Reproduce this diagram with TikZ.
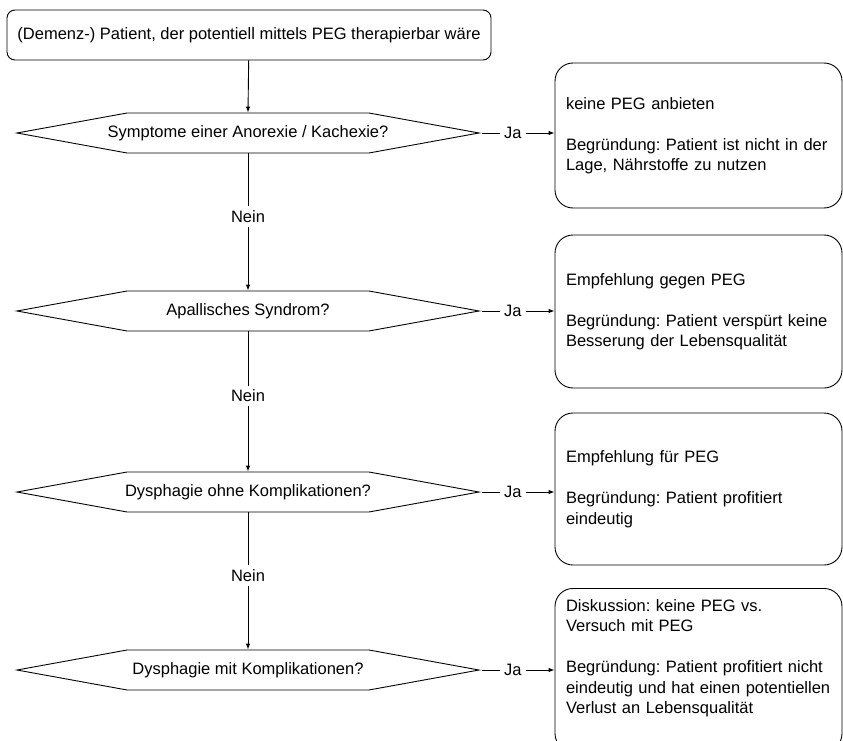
\documentclass[tikz,border=0pt]{standalone}
\usepackage{fontspec}
\setmainfont{Liberation Sans}
\usetikzlibrary{shapes.symbols,arrows.meta,positioning}

\begin{document}
\frenchspacing
\begin{tikzpicture}[x=1pt,y=-1pt,line width=0.9pt,>={Latex[length=6pt,width=4.5pt]},font=\fontsize{16.5}{20.5}\selectfont]
    \tikzstyle{start}=[draw, rounded corners=8pt, minimum width=484pt, minimum height=50pt, inner sep=2pt]
    \tikzstyle{query}=[draw, signal, signal to=west and east, signal pointer angle=20.6, minimum width=462pt, minimum height=40pt, inner xsep=-80pt, inner ysep=0pt]
    \tikzstyle{result}=[draw, rounded corners=18pt, minimum width=287pt, text width=265pt, align=left, inner sep=11pt]
    \tikzstyle{lbl}=[fill=white, inner sep=4pt]
    \useasboundingbox (0,0) rectangle (843,741);
    \node[start] (s) at (249,35) {(Demenz-) Patient, der potentiell mittels PEG therapierbar wäre};
    % Fragen
    \node[query] (q1) at (248,133) {Symptome einer Anorexie / Kachexie?};
    \node[query] (q2) at (248,311) {Apallisches Syndrom?};
    \node[query] (q3) at (248,492) {Dysphagie ohne Komplikationen?};
    \node[query] (q4) at (248,670) {Dysphagie mit Komplikationen?};
    % Empfehlungen
    \node[result, minimum height=145pt] (r1) at (698.5,135.5) {keine PEG anbieten\\[20.5pt]Begründung: Patient ist nicht in der\\Lage, Nährstoffe zu nutzen};
    \node[result, minimum height=153pt] (r2) at (698.5,311.5) {Empfehlung gegen PEG\\[20.5pt]Begründung: Patient verspürt keine\\Besserung der Lebensqualität};
    \node[result, minimum height=152pt] (r3) at (698.5,489) {Empfehlung für PEG\\[20.5pt]Begründung: Patient profitiert\\eindeutig};
    \node[result, minimum height=156pt] (r4) at (698.5,670) {Diskussion: keine PEG vs.\\Versuch mit PEG\\[20.5pt]Begründung: Patient profitiert nicht\\eindeutig und hat einen potentiellen\\Verlust an Lebensqualität\\\strut};
    \draw[->] (s) -- (q1.north);
    \foreach \current/\next in {1/2,2/3,3/4} {
        \draw[->] (q\current.south) -- node[lbl, pos=0.46] {Nein} (q\next.north);
    }
    \foreach \i in {1,2,3,4} {
        \draw[->] (q\i.east) -- node[lbl, pos=0.43] {Ja} (q\i.east -| r\i.west);
    }
\end{tikzpicture}
\end{document}
